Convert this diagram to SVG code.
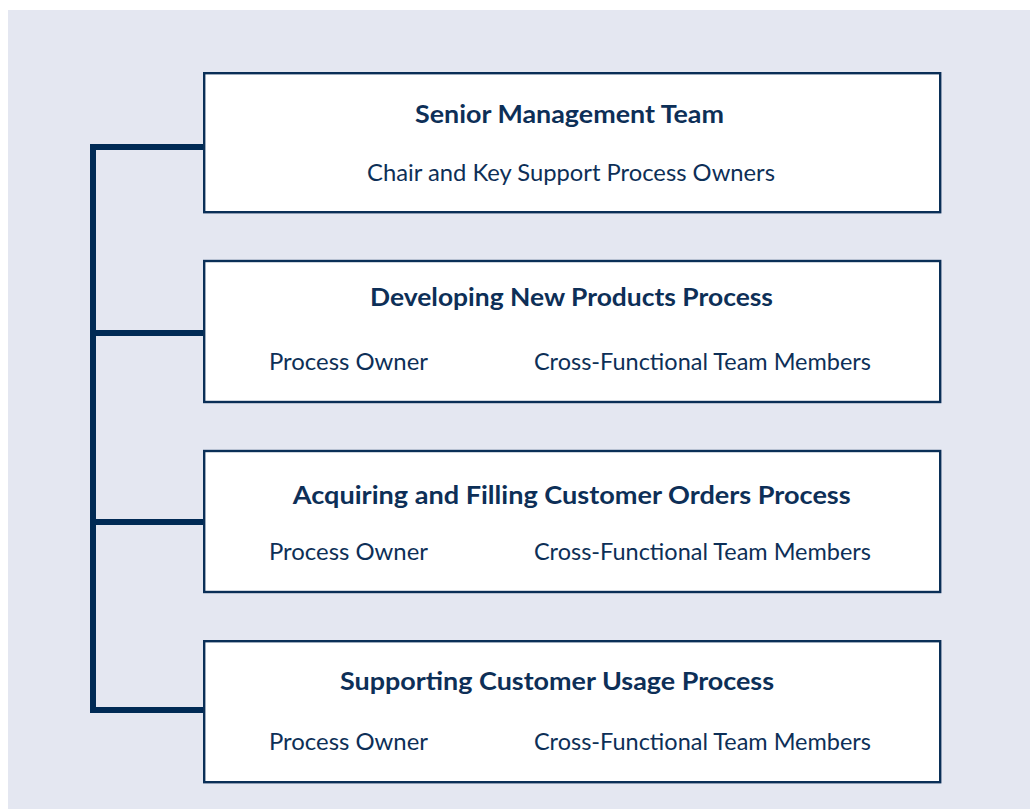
<svg xmlns="http://www.w3.org/2000/svg" width="1030" height="809" viewBox="0 0 1030 809">
<style>
.box{fill:#ffffff;stroke:#0a2f57;stroke-width:2.4}
.conn{fill:none;stroke:#002a55;stroke-width:6}
.t{font-family:Lato,"Open Sans","Liberation Sans",sans-serif;font-weight:bold;font-size:24px;fill:#0d2f57}
.s{font-family:Lato,"Open Sans","Liberation Sans",sans-serif;font-size:23.5px;fill:#0d2f57}
</style>
<rect x="0" y="0" width="1030" height="809" fill="#ffffff"/>
<rect x="8" y="10" width="1022" height="799" fill="#e4e7f1"/>
<g id="connectors">
<path class="conn" d="M204 147 H93 V710 H204 M93 333 H204 M93 522 H204"/>
</g>
<g id="node1">
<rect class="box" x="204.2" y="73.2" width="736" height="139"/>
<text class="t" x="415" y="123" textLength="309" lengthAdjust="spacingAndGlyphs">Senior Management Team</text>
<text class="s" x="367" y="181" textLength="408" lengthAdjust="spacingAndGlyphs">Chair and Key Support Process Owners</text>
</g>
<g id="node2">
<rect class="box" x="204.2" y="261" width="736" height="141"/>
<text class="t" x="370" y="306" textLength="403" lengthAdjust="spacingAndGlyphs">Developing New Products Process</text>
<text class="s" x="269" y="370" textLength="159" lengthAdjust="spacingAndGlyphs">Process Owner</text>
<text class="s" x="534" y="370" textLength="337" lengthAdjust="spacingAndGlyphs">Cross-Functional Team Members</text>
</g>
<g id="node3">
<rect class="box" x="204.2" y="451" width="736" height="141"/>
<text class="t" x="292.7" y="504" textLength="558" lengthAdjust="spacingAndGlyphs">Acquiring and Filling Customer Orders Process</text>
<text class="s" x="269" y="560" textLength="159" lengthAdjust="spacingAndGlyphs">Process Owner</text>
<text class="s" x="534" y="560" textLength="337" lengthAdjust="spacingAndGlyphs">Cross-Functional Team Members</text>
</g>
<g id="node4">
<rect class="box" x="204.2" y="641.2" width="736" height="141"/>
<text class="t" x="340" y="690" textLength="434" lengthAdjust="spacingAndGlyphs">Supporting Customer Usage Process</text>
<text class="s" x="269" y="750" textLength="159" lengthAdjust="spacingAndGlyphs">Process Owner</text>
<text class="s" x="534" y="750" textLength="337" lengthAdjust="spacingAndGlyphs">Cross-Functional Team Members</text>
</g>
</svg>
